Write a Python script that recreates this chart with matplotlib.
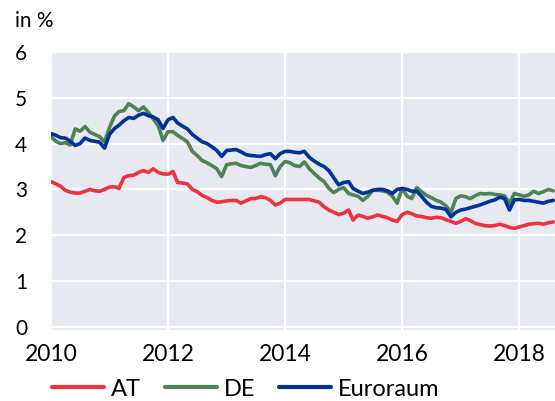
import matplotlib
matplotlib.use("Agg")
import matplotlib.pyplot as plt
import matplotlib.dates as mdates
import pandas as pd

# Monthly interest rates, Jan 2010 - Aug 2018 (in %)
months = pd.date_range("2010-01-01", "2018-08-01", freq="MS")

at = [3.17, 3.12, 3.07, 2.98, 2.94, 2.92, 2.92, 2.96, 3.00, 2.97, 2.96, 3.00,
      3.05, 3.06, 3.02, 3.26, 3.30, 3.31, 3.37, 3.41, 3.37, 3.45, 3.37, 3.34,
      3.33, 3.39, 3.15, 3.14, 3.12, 3.00, 2.95, 2.87, 2.82, 2.76, 2.72, 2.73,
      2.75, 2.76, 2.76, 2.70, 2.75, 2.80, 2.80, 2.84, 2.82, 2.76, 2.66, 2.70,
      2.78, 2.78, 2.78, 2.78, 2.78, 2.78, 2.75, 2.72, 2.62, 2.55, 2.50, 2.45,
      2.48, 2.55, 2.33, 2.44, 2.41, 2.37, 2.40, 2.44, 2.41, 2.38, 2.33, 2.30,
      2.45, 2.50, 2.47, 2.42, 2.41, 2.38, 2.37, 2.39, 2.38, 2.34, 2.30, 2.26,
      2.30, 2.36, 2.32, 2.26, 2.23, 2.21, 2.20, 2.21, 2.24, 2.21, 2.17, 2.15,
      2.18, 2.21, 2.24, 2.25, 2.26, 2.24, 2.27, 2.29]

de = [4.15, 4.05, 4.00, 4.02, 3.97, 4.32, 4.27, 4.37, 4.25, 4.20, 4.15, 4.04,
      4.35, 4.60, 4.70, 4.72, 4.87, 4.80, 4.72, 4.80, 4.68, 4.54, 4.39, 4.07,
      4.26, 4.26, 4.18, 4.11, 4.04, 3.83, 3.74, 3.63, 3.58, 3.52, 3.45, 3.28,
      3.54, 3.56, 3.57, 3.52, 3.50, 3.48, 3.52, 3.57, 3.55, 3.54, 3.30, 3.50,
      3.61, 3.58, 3.52, 3.50, 3.60, 3.45, 3.35, 3.25, 3.17, 3.02, 2.93, 3.00,
      3.04, 2.91, 2.88, 2.85, 2.76, 2.85, 2.98, 2.98, 2.97, 2.94, 2.85, 2.70,
      3.02, 2.85, 2.80, 3.04, 2.95, 2.87, 2.82, 2.76, 2.72, 2.64, 2.50, 2.80,
      2.86, 2.84, 2.80, 2.86, 2.91, 2.90, 2.91, 2.89, 2.88, 2.86, 2.70, 2.91,
      2.88, 2.85, 2.88, 2.96, 2.91, 2.95, 3.00, 2.97]

euro = [4.22, 4.18, 4.13, 4.12, 4.05, 3.96, 4.00, 4.12, 4.07, 4.05, 4.03, 3.90,
        4.20, 4.33, 4.40, 4.50, 4.57, 4.55, 4.62, 4.66, 4.61, 4.58, 4.52, 4.33,
        4.52, 4.57, 4.45, 4.38, 4.32, 4.20, 4.12, 4.04, 4.00, 3.93, 3.85, 3.72,
        3.85, 3.86, 3.87, 3.82, 3.76, 3.74, 3.73, 3.72, 3.76, 3.78, 3.67, 3.78,
        3.83, 3.83, 3.81, 3.80, 3.83, 3.70, 3.62, 3.55, 3.50, 3.41, 3.25, 3.10,
        3.15, 3.17, 3.02, 2.96, 2.91, 2.94, 2.98, 3.00, 3.00, 2.97, 2.91, 3.00,
        3.02, 3.00, 2.96, 2.96, 2.85, 2.72, 2.63, 2.60, 2.59, 2.56, 2.40, 2.50,
        2.55, 2.57, 2.60, 2.63, 2.66, 2.70, 2.74, 2.77, 2.83, 2.80, 2.55, 2.77,
        2.78, 2.76, 2.76, 2.74, 2.72, 2.70, 2.74, 2.76]

series_names = ["AT", "DE", "Euroraum"]
series_colors = ["#EC3340", "#4F8254", "#003399"]
y_ticks = [0, 1, 2, 3, 4, 5, 6]
x_tick_years = [2010, 2012, 2014, 2016, 2018]

plt.rcParams["font.family"] = ["Lato", "DejaVu Sans"]

fig = plt.figure(figsize=(5.55, 4.01), dpi=100)
ax = fig.add_axes([51 / 555, 1 - 330 / 401, 504 / 555, 278 / 401])
ax.set_facecolor("#E6E9F0")

for values, name, color in zip([at, de, euro], series_names, series_colors):
    ax.plot(months, values, color=color, lw=2.6, label=name,
            solid_joinstyle="round", solid_capstyle="round")

ax.set_ylim(-0.07, 6.0)
ax.set_yticks(y_ticks)
ax.set_xlim(pd.Timestamp("2010-01-01"), pd.Timestamp("2018-08-12"))
ax.set_xticks([pd.Timestamp(f"{y}-01-01") for y in x_tick_years])
ax.xaxis.set_major_formatter(mdates.DateFormatter("%Y"))

ax.grid(True, color="white", lw=1.6)
ax.set_axisbelow(True)
for s in ax.spines.values():
    s.set_visible(False)
ax.tick_params(axis="y", length=0, pad=26, labelsize=15, colors="black")
ax.tick_params(axis="x", length=0, pad=10, labelsize=16.5, colors="black")
for lbl in ax.get_yticklabels():
    lbl.set_horizontalalignment("left")

fig.text(15 / 555, 1 - 21 / 401, "in %", fontsize=15, va="center", ha="left")

handles, labels = ax.get_legend_handles_labels()
leg = fig.legend(handles, labels, loc="center left",
                 bbox_to_anchor=(52 / 555, 1 - 389 / 401), ncol=3,
                 frameon=False, fontsize=17, handlelength=2.2,
                 handletextpad=0.3, columnspacing=1.0, borderpad=0,
                 borderaxespad=0)
for line in leg.get_lines():
    line.set_linewidth(3)

fig.savefig("out.png", dpi=100)
